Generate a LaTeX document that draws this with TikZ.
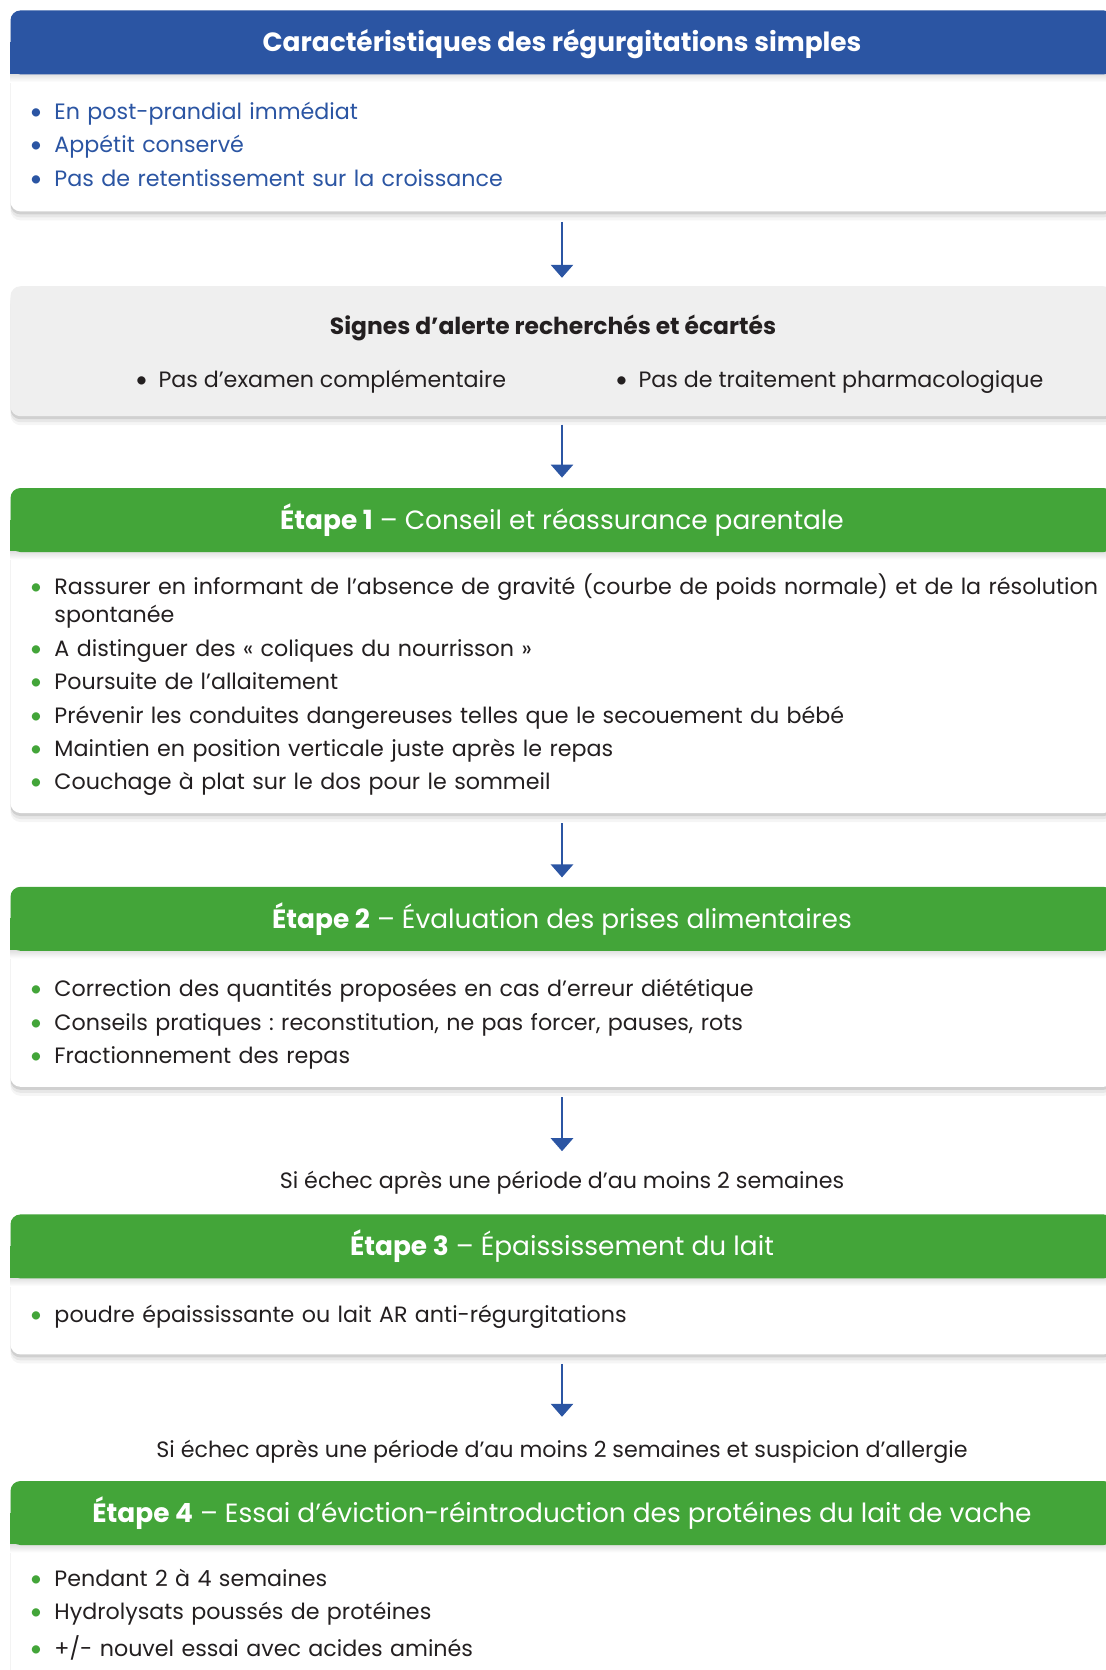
\documentclass[tikz,border=0pt]{standalone}
\usepackage{fontspec}
\setmainfont{Poppins}
\newfontfamily\lato{Lato}
\usetikzlibrary{positioning,arrows.meta,shadows}

\definecolor{bleu}{RGB}{43,85,163}
\definecolor{vert}{RGB}{67,165,57}
\definecolor{gris}{RGB}{239,239,239}
\definecolor{texte}{RGB}{35,31,32}

\newcommand{\corps}{\fontsize{11.1}{14}\selectfont\frenchspacing}
\newcommand{\titre}{\fontsize{13.2}{15}\selectfont\frenchspacing}
\newcommand{\puce}[2][vert]{\par\noindent\hangindent=12.5pt\hangafter=1%
  \makebox[12.5pt][l]{\textcolor{#1}{\lato\textbullet}}\strut#2}

\begin{document}
\begin{tikzpicture}[x=0.5pt, y=-0.5pt, node distance=37pt]
\tikzstyle{ombre} = [drop shadow={shadow xshift=0pt, shadow yshift=-1.5pt, opacity=.10, fill=black},
                     drop shadow={shadow xshift=0pt, shadow yshift=-3pt, opacity=.06, fill=black},
                     drop shadow={shadow xshift=0pt, shadow yshift=-4.5pt, opacity=.04, fill=black}]
\tikzstyle{carte} = [rectangle, rounded corners=5pt, fill=white, minimum width=551.5pt, inner sep=0pt, anchor=north, ombre]
\tikzstyle{entete} = [rectangle, rounded corners=5pt, minimum width=551.5pt, minimum height=32pt, inner sep=0pt, text=white, font=\titre, text height=10.5pt, text depth=1pt]
\tikzstyle{liste} = [inner sep=0pt, text width=545pt, align=left, font=\corps, text=texte, execute at begin node={\setlength{\parskip}{2.7pt}}]
\tikzstyle{condition} = [inner sep=0pt, font=\corps, text=texte, text height=9pt, text depth=3pt]
\tikzstyle{alerte} = [inner sep=0pt, font=\corps, text=texte, text height=9.5pt, text depth=1pt]
\tikzstyle{fleche} = [bleu, line width=1.4pt, -{Triangle[width=11pt, length=6.5pt]}]
%
\useasboundingbox (0,0) rectangle (1105,1670);
%
\node (c1) [carte, minimum height=100.5pt] at (562,10) {};
\node (c2) [carte, fill=gris, minimum height=65pt, below=of c1] {};
\node (c3) [carte, minimum height=162.5pt, below=35.5pt of c2] {};
\node (c4) [carte, minimum height=100pt, below=36.5pt of c3] {};
\node (l1) [condition, below=41.5pt of c4] {Si échec après une période d’au moins 2 semaines};
\node (c5) [carte, minimum height=70pt, below=9.5pt of l1] {};
\node (l2) [condition, below=42pt of c5] {Si échec après une période d’au moins 2 semaines et suspicion d’allergie};
\node (c6) [carte, minimum height=110.5pt, below=8.5pt of l2] {};
%
\foreach \c/\couleur in {c1/bleu, c3/vert, c4/vert, c5/vert, c6/vert} {
  \fill[\couleur] ([yshift=-16pt]\c.north west) rectangle ([yshift=-32pt]\c.north east);
  \shade[top color=black!12, bottom color=white] ([yshift=-32pt]\c.north west) rectangle ([yshift=-36pt]\c.north east);
}
%
\node (t1) [entete, fill=bleu, below=0pt of c1.north] {\textbf{Caractéristiques des régurgitations simples}};
\node (t3) [entete, fill=vert, below=0pt of c3.north] {\textbf{Étape 1} – Conseil et réassurance parentale};
\node (t4) [entete, fill=vert, below=0pt of c4.north] {\textbf{Étape 2} – Évaluation des prises alimentaires};
\node (t5) [entete, fill=vert, below=0pt of c5.north] {\textbf{Étape 3} – Épaississement du lait};
\node (t6) [entete, fill=vert, below=0pt of c6.north] {\textbf{Étape 4} – Essai d’éviction-réintroduction des protéines du lait de vache};
%
\node (signes) [alerte, font=\fontsize{11.7}{14}\selectfont\bfseries, below=14.5pt of c2.north, xshift=-4.5pt] {Signes d'alerte recherchés et écartés};
\node (examen) [alerte, below right=41pt and 62.25pt of c2.north west] {\makebox[11.75pt][l]{\lato\textbullet}Pas d'examen complémentaire};
\node (traitement) [alerte, below right=41pt and 302.25pt of c2.north west] {\makebox[11.75pt][l]{\lato\textbullet}Pas de traitement pharmacologique};
%
\node (liste1) [liste, text=bleu, below right=37.7pt and 9.5pt of c1.north west] {%
  \puce[bleu]{En post-prandial immédiat}
  \puce[bleu]{Appétit conservé}
  \puce[bleu]{Pas de retentissement sur la croissance}};
\node (liste3) [liste, below right=36.7pt and 9.5pt of c3.north west] {%
  \puce{Rassurer en informant de l’absence de gravité (courbe de poids normale) et de la résolution\newline spontanée}
  \puce{A distinguer des « coliques du nourrisson »}
  \puce{Poursuite de l’allaitement}
  \puce{Prévenir les conduites dangereuses telles que le secouement du bébé}
  \puce{Maintien en position verticale juste après le repas}
  \puce{Couchage à plat sur le dos pour le sommeil}};
\node (liste4) [liste, below right=38.2pt and 9.5pt of c4.north west] {%
  \puce{Correction des quantités proposées en cas d'erreur diététique}
  \puce{Conseils pratiques : reconstitution, ne pas forcer, pauses, rots}
  \puce{Fractionnement des repas}};
\node (liste5) [liste, below right=37.2pt and 9.5pt of c5.north west] {%
  \puce{poudre épaississante ou lait AR anti-régurgitations}};
\node (liste6) [liste, below right=36pt and 9.5pt of c6.north west] {%
  \puce{Pendant 2 à 4 semaines}
  \puce{Hydrolysats poussés de protéines}
  \puce{+/- nouvel essai avec acides aminés}};
%
\draw [fleche, shorten <=5pt, shorten >=4pt] (c1) -- (c2);
\draw [fleche, shorten <=4pt, shorten >=5pt] (c2) -- (c3);
\draw [fleche, shorten <=5pt, shorten >=4.5pt] (c3) -- (c4);
\draw [fleche, shorten <=5pt, shorten >=9.5pt] (c4) -- (l1);
\draw [fleche, shorten <=4.5pt, shorten >=11pt] (c5) -- (l2);
\end{tikzpicture}
\end{document}
